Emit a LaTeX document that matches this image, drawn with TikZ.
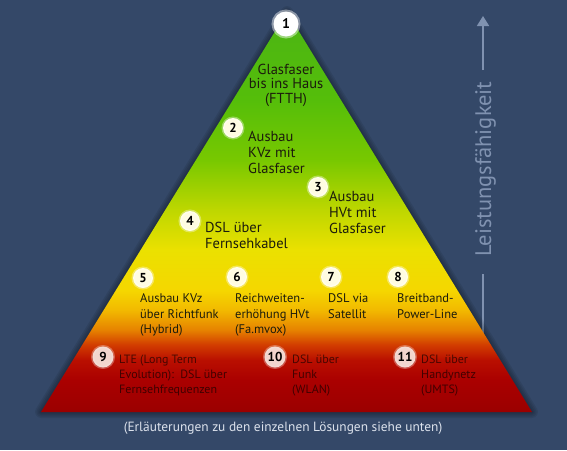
\documentclass[tikz,border=0pt]{standalone}
\usepackage{fontspec}
\setmainfont{PT Sans}
\usetikzlibrary{arrows.meta}
\definecolor{bgc}{RGB}{52,72,104}
\definecolor{axc}{RGB}{128,146,176}
\definecolor{capc}{RGB}{220,226,236}
\definecolor{txt}{RGB}{28,28,12}
\definecolor{cream}{RGB}{255,252,226}
\definecolor{pinkc}{RGB}{242,214,206}
\definecolor{pa}{RGB}{155,0,0}
\definecolor{pb}{RGB}{170,0,0}
\definecolor{pc}{RGB}{185,15,0}
\definecolor{pd}{RGB}{210,60,0}
\definecolor{pe}{RGB}{230,130,0}
\definecolor{pf}{RGB}{242,185,0}
\definecolor{pg}{RGB}{245,215,0}
\definecolor{ph}{RGB}{235,225,0}
\definecolor{pi}{RGB}{190,215,0}
\definecolor{pj}{RGB}{120,200,0}
\definecolor{pk}{RGB}{85,190,10}
\definecolor{pl}{RGB}{75,180,20}
\pgfdeclareverticalshading{pyrshade}{100bp}{color(0bp)=(pa); color(25bp)=(pa); color(29bp)=(pb); color(31.5bp)=(pc); color(33.4bp)=(pd); color(35.25bp)=(pe); color(37.75bp)=(pf); color(40.25bp)=(pg); color(45.25bp)=(ph); color(50.25bp)=(pi); color(56.5bp)=(pj); color(64bp)=(pk); color(75bp)=(pl); color(100bp)=(pl)}
\tikzset{
  numc/.style={circle, fill=cream, inner sep=0pt, minimum size=20pt, text=black,
    font=\fontsize{13}{13}\selectfont\bfseries, draw=white, draw opacity=0.35, line width=3pt},
  numr/.style={numc, fill=pinkc, draw=pinkc!60!white, minimum size=21pt},
  lbl/.style={anchor=base west, align=left, inner sep=0pt, text=txt,
    font=\fontsize{14.5}{16}\selectfont},
  lbls/.style={lbl, font=\fontsize{12.5}{15.3}\selectfont},
  lblr/.style={lbl, font=\fontsize{12}{15}\selectfont, text=black, text opacity=0.62},
  shadowline/.style={line join=round, black, draw opacity=0.08}
}
\begin{document}
\begin{tikzpicture}[x=1pt,y=-1pt]
\useasboundingbox (0,0) rectangle (567,450);
\fill[bgc] (0,0) rectangle (567,450);
% axis
\coordinate (axtop) at (483,16);
\coordinate (axa) at (483,70);
\coordinate (axb) at (483,274);
\coordinate (axc) at (483,335);
\draw[axc, line width=1.6pt, -{Triangle[width=12pt,length=10pt]}] (axa) -- (axtop);
\draw[axc, line width=1.6pt] (axb) -- (axc);
\node[rotate=90, anchor=base, inner sep=0pt, text=axc, font=\fontsize{22.5}{23}\selectfont] (axlabel) at (491,169) {Leistungsfähigkeit};
% pyramid
\coordinate (apex) at (287,12);
\coordinate (bl) at (41,412);
\coordinate (br) at (532,412);
\foreach \w in {12,9,6,3} \draw[shadowline, line width=\w pt] (apex) -- (bl) -- (br) -- cycle;
\shade[shading=pyrshade] (apex) -- (bl) -- (br) -- cycle;
% numbers
\node[numc, fill=white, minimum size=25pt, draw=white, draw opacity=0.45, line width=4pt, font=\fontsize{14}{14}\selectfont\bfseries] (n1) at (286,24) {1};
\node[numc] (n2) at (233,128) {2};
\node[numc] (n3) at (318,187) {3};
\node[numc] (n4) at (190,221) {4};
\node[numc] (n5) at (143,278) {5};
\node[numc] (n6) at (237,277) {6};
\node[numc] (n7) at (331,277) {7};
\node[numc] (n8) at (398,277) {8};
\node[numr] (n9) at (103,357) {9};
\node[numr] (n10) at (275,357) {10};
\node[numr] (n11) at (405,357) {11};
% labels (anchor base = baseline of last line)
\node[lbl, anchor=base, align=center, font=\fontsize{14.5}{14.7}\selectfont] (t1) at (286,103.4) {Glasfaser\\bis ins Haus\\(FTTH)};
\node[lbl] (t2) at (248,173) {Ausbau\\KVz mit\\Glasfaser};
\node[lbl] (t3) at (329,233.5) {Ausbau\\HVt mit\\Glasfaser};
\node[lbl] (t4) at (205,248.7) {DSL über\\Fernsehkabel};
\node[lbls] (t5) at (140,333.3) {Ausbau KVz\\über Richtfunk\\(Hybrid)};
\node[lbls] (t6) at (235,333.3) {Reichweiten-\\erhöhung HVt\\(Fa.mvox)};
\node[lbls] (t7) at (328,318) {DSL via\\Satellit};
\node[lbls] (t8) at (397,318) {Breitband-\\Power-Line};
\node[lblr] (t9) at (119,393.3) {LTE (Long Term\\Evolution):\ \ DSL über\\Fernsehfrequenzen};
\node[lblr] (t10) at (292,393.3) {DSL über\\Funk\\(WLAN)};
\node[lblr] (t11) at (421,393.3) {DSL über\\Handynetz\\(UMTS)};
% caption
\node[anchor=base, inner sep=0pt, text=capc, font=\fontsize{13.4}{13.4}\selectfont] (cap) at (283,431.7) {(Erläuterungen zu den einzelnen Lösungen siehe unten)};
\end{tikzpicture}
\end{document}
